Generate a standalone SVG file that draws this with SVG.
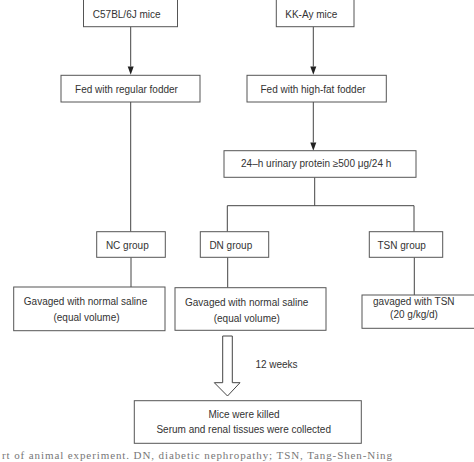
<svg xmlns="http://www.w3.org/2000/svg" width="474" height="462" viewBox="0 0 474 462">
<defs>
<style>
.box{fill:#fff;stroke:#555;stroke-width:1}
.t{font-family:"Liberation Sans",Arial,sans-serif;font-size:10px;fill:#333;text-anchor:middle}
.ln{fill:none;stroke:#444;stroke-width:1}
.cap{font-family:"Liberation Serif","Times New Roman",serif;font-size:11px;fill:#777}
</style>
</defs>
<rect width="474" height="462" fill="#fff"/>
<g id="connectors">
<line class="ln" x1="130.7" y1="26.7" x2="130.7" y2="66.5"/>
<path d="M127.7,66.5 L133.7,66.5 L130.7,74.7 Z" fill="#222"/>
<line class="ln" x1="313.3" y1="26.7" x2="313.3" y2="66.5"/>
<path d="M310.3,66.5 L316.3,66.5 L313.3,74.7 Z" fill="#222"/>
<line class="ln" x1="130.7" y1="102" x2="130.7" y2="231.7"/>
<line class="ln" x1="313.3" y1="102" x2="313.3" y2="142.5"/>
<path d="M310.3,142.5 L316.3,142.5 L313.3,150.7 Z" fill="#222"/>
<polyline class="ln" points="314.7,177.3 314.7,205.7"/>
<polyline class="ln" points="227.3,231.7 227.3,205.7 414,205.7 414,231.7"/>
<line class="ln" x1="131" y1="257.3" x2="131" y2="287"/>
<line class="ln" x1="227.7" y1="257.3" x2="227.7" y2="287.7"/>
<line class="ln" x1="414.3" y1="257.3" x2="414.3" y2="295"/>
<path d="M222.7,336 L232.3,336 L232.3,382.7 L240,382.7 L227.5,396 L214.3,382.7 L222.7,382.7 Z" fill="#fff" stroke="#444" stroke-width="1"/>
</g>
<g id="n-c57">
<rect class="box" x="83.5" y="-5" width="94" height="31.7"/>
<text class="t" x="126.7" y="17.5">C57BL/6J mice</text>
</g>
<g id="n-kkay">
<rect class="box" x="276.3" y="-5" width="77.7" height="31.7"/>
<text class="t" x="311.3" y="17.5">KK-Ay mice</text>
</g>
<g id="n-fed-regular">
<rect class="box" x="61" y="75.3" width="139" height="26.7"/>
<text class="t" x="126.5" y="92.5">Fed with regular fodder</text>
</g>
<g id="n-fed-highfat">
<rect class="box" x="247" y="75.3" width="139.3" height="26.7"/>
<text class="t" x="313" y="92.5">Fed with high-fat fodder</text>
</g>
<g id="n-urinary">
<rect class="box" x="224" y="150.7" width="192" height="26.6"/>
<text class="t" x="316.2" y="167.3">24–h urinary protein ≥500 μg/24 h</text>
</g>
<g id="n-nc">
<rect class="box" x="96.7" y="231.7" width="68.6" height="25.6"/>
<text class="t" x="127.3" y="248.7">NC group</text>
</g>
<g id="n-dn">
<rect class="box" x="200.3" y="231.7" width="68.4" height="25.6"/>
<text class="t" x="230.8" y="248.7">DN group</text>
</g>
<g id="n-tsn">
<rect class="box" x="369.3" y="231.7" width="73.4" height="25.6"/>
<text class="t" x="401.7" y="248.7">TSN group</text>
</g>
<g id="n-nc-gav">
<rect class="box" x="13.7" y="287" width="151.3" height="43.7"/>
<text class="t" x="85.5" y="304.5">Gavaged with normal saline</text>
<text class="t" x="86.5" y="321">(equal volume)</text>
</g>
<g id="n-dn-gav">
<rect class="box" x="175" y="287.7" width="151" height="42.6"/>
<text class="t" x="246.7" y="305.5">Gavaged with normal saline</text>
<text class="t" x="246.8" y="322">(equal volume)</text>
</g>
<g id="n-tsn-gav">
<rect class="box" x="362" y="295" width="116" height="33.3"/>
<text class="t" x="413.8" y="304.7">gavaged with TSN</text>
<text class="t" x="414" y="317.7">(20 g/kg/d)</text>
</g>
<text class="t" x="276.5" y="367.5">12 weeks</text>
<g id="n-killed">
<rect class="box" x="134.3" y="400.7" width="227" height="42.6"/>
<text class="t" x="244" y="417.5">Mice were killed</text>
<text class="t" x="243.7" y="433">Serum and renal tissues were collected</text>
</g>
<text class="cap" x="2" y="459.3" textLength="390" lengthAdjust="spacing">rt of animal experiment. DN, diabetic nephropathy; TSN, Tang-Shen-Ning</text>
</svg>
